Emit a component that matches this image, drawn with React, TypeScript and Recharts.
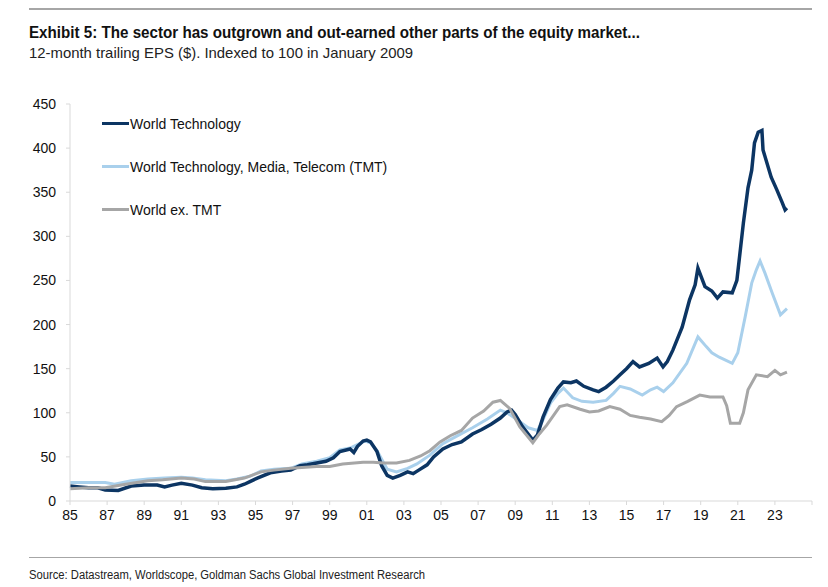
import React from "react";
import { LineChart, Line, XAxis, YAxis, Legend } from "recharts";

// [year, index value]
const WORLD_TECH: [number, number][] = [
  [1985, 17], [1985.5, 16], [1986, 15], [1986.5, 15], [1986.9, 12.5], [1987.6, 12],
  [1988.3, 17], [1989, 18], [1989.7, 18], [1990.1, 16], [1990.5, 18], [1991, 20],
  [1991.6, 18], [1992.1, 15], [1992.7, 14], [1993.4, 14.5], [1994, 16], [1994.4, 19],
  [1994.7, 22], [1995.1, 26], [1995.8, 32], [1996.4, 34], [1996.9, 35], [1997.4, 40],
  [1997.8, 41], [1998.3, 43], [1998.8, 45], [1999.2, 49], [1999.55, 56], [2000.1, 59],
  [2000.3, 55], [2000.5, 62], [2000.8, 68], [2001.0, 69], [2001.2, 67], [2001.55, 56],
  [2001.8, 40], [2002.1, 29], [2002.4, 26], [2002.8, 29], [2003.2, 33], [2003.5, 31],
  [2003.8, 35], [2004.25, 41], [2004.6, 50], [2005.1, 59], [2005.6, 64], [2006.1, 67],
  [2006.7, 76], [2007.2, 81], [2007.7, 87], [2008.2, 94], [2008.56, 101], [2008.8, 103],
  [2009.0, 98], [2009.4, 84], [2009.95, 69], [2010.2, 75], [2010.5, 95], [2010.9, 115],
  [2011.3, 128], [2011.6, 135], [2012.0, 134], [2012.3, 136], [2012.7, 130], [2013.2, 126],
  [2013.5, 124], [2013.9, 129], [2014.3, 136], [2014.65, 143], [2015.0, 150], [2015.35, 158],
  [2015.7, 152], [2016.2, 156], [2016.65, 162], [2016.97, 152], [2017.2, 158], [2017.5, 171],
  [2018.0, 197], [2018.4, 228], [2018.7, 245], [2018.85, 264], [2019.23, 243], [2019.6, 238],
  [2019.9, 230], [2020.2, 237], [2020.7, 236], [2020.95, 250], [2021.3, 315], [2021.55, 355],
  [2021.75, 375], [2021.9, 406], [2022.1, 418], [2022.3, 420], [2022.36, 398], [2022.8, 367],
  [2023.1, 353], [2023.4, 338], [2023.55, 330], [2023.65, 332],
];

const WORLD_TMT: [number, number][] = [
  [1985, 21], [1986, 21], [1986.9, 21], [1987.4, 19], [1988.3, 23], [1989.2, 25],
  [1990.1, 26], [1991, 27], [1991.6, 26], [1992.3, 24], [1993.4, 23], [1994, 25],
  [1994.7, 28], [1995.3, 34], [1996, 36], [1996.9, 37], [1997.5, 42], [1998.3, 45],
  [1999, 49], [1999.55, 58], [2000.1, 60], [2000.6, 65], [2000.9, 68], [2001.2, 66],
  [2001.55, 57], [2002.1, 36], [2002.6, 33], [2003.2, 37], [2003.7, 42], [2004.4, 52],
  [2005.1, 65], [2005.8, 73], [2006.7, 83], [2007.5, 93], [2008.2, 103], [2008.56, 100],
  [2009.25, 90], [2009.7, 83], [2010.2, 80], [2010.5, 92], [2010.9, 111], [2011.3, 122],
  [2011.6, 128], [2012.1, 117], [2012.6, 113], [2013.2, 112], [2013.9, 114], [2014.3, 122],
  [2014.65, 130], [2015.2, 127], [2015.85, 120], [2016.3, 126], [2016.65, 129], [2017.0, 124],
  [2017.5, 134], [2018.25, 156], [2018.85, 186], [2019.3, 175], [2019.6, 168], [2020.0, 163],
  [2020.7, 156], [2021.0, 168], [2021.4, 209], [2021.75, 247], [2022.0, 262], [2022.2, 272],
  [2022.47, 258], [2022.85, 236], [2023.3, 211], [2023.65, 218],
];

const WORLD_EX_TMT: [number, number][] = [
  [1985, 14], [1986, 15], [1986.9, 15], [1988, 19], [1989.2, 23], [1990, 24],
  [1991, 26], [1991.7, 25], [1992.3, 22], [1993.4, 22], [1994.4, 26], [1995.3, 33],
  [1996, 35], [1996.9, 37], [1998.3, 39], [1999.0, 39], [1999.7, 42], [2000.8, 44],
  [2001.35, 44], [2001.9, 43], [2002.6, 43], [2003.3, 46], [2003.9, 51], [2004.4, 57],
  [2004.95, 67], [2005.5, 74], [2006.1, 80], [2006.7, 94], [2007.3, 102], [2007.8, 112],
  [2008.2, 114], [2008.7, 105], [2009.25, 84], [2009.95, 66], [2010.3, 76], [2010.7, 86],
  [2011.4, 107], [2011.8, 109], [2012.5, 104], [2013.0, 101], [2013.5, 102], [2014.1, 107],
  [2014.65, 104], [2015.2, 97], [2015.7, 95], [2016.3, 93], [2016.9, 90], [2017.3, 97],
  [2017.7, 107], [2018.3, 113], [2018.95, 120], [2019.5, 118], [2020.2, 118], [2020.4, 108],
  [2020.6, 88], [2021.1, 88], [2021.3, 100], [2021.55, 126], [2022.0, 143], [2022.6, 141],
  [2023.0, 148], [2023.3, 143], [2023.65, 146],
];

const X_TICKS = [1985, 1987, 1989, 1991, 1993, 1995, 1997, 1999, 2001, 2003, 2005, 2007,
  2009, 2011, 2013, 2015, 2017, 2019, 2021, 2023, 2025];
const Y_TICKS = [0, 50, 100, 150, 200, 250, 300, 350, 400, 450];

const SERIES = [
  { name: "World Technology", color: "#0c3563" },
  { name: "World Technology, Media, Telecom (TMT)", color: "#a9d0ec" },
  { name: "World ex. TMT", color: "#a6a6a6" },
];

const TITLE = "Exhibit 5: The sector has outgrown and out-earned other parts of the equity market...";
const SUBTITLE = "12-month trailing EPS ($). Indexed to 100 in January 2009";
const SOURCE = "Source: Datastream, Worldscope, Goldman Sachs Global Investment Research";

const toPoints = (rows: [number, number][]) => rows.map(([t, v]) => ({ t, v }));

const SANS = "'Liberation Sans', Arial, sans-serif";

function LegendBox() {
  return (
    <div style={{ fontFamily: SANS, fontSize: 14, color: "#111" }}>
      {SERIES.map((s) => (
        <div key={s.name} style={{ display: "flex", alignItems: "center", height: 43 }}>
          <span style={{ display: "inline-block", width: 27, height: 3, background: s.color }} />
          <span style={{ marginLeft: 1 }}>{s.name}</span>
        </div>
      ))}
    </div>
  );
}

export default function App() {
  return (
    <div style={{ position: "absolute", left: 0, top: 0, width: 828, height: 587, background: "#fff" }}>
      {/* header and footer: condensed look via textLength */}
      <svg width={828} height={587} style={{ position: "absolute", left: 0, top: 0 }}>
        <line x1={29} x2={812} y1={9} y2={9} stroke="#a6a6a6" strokeWidth={2} />
        <text x={29} y={38} fontFamily={SANS} fontWeight={700} fontSize={17} fill="#111"
          textLength={611} lengthAdjust="spacingAndGlyphs">{TITLE}</text>
        <text x={29} y={58} fontFamily={SANS} fontSize={15} fill="#222"
          textLength={384} lengthAdjust="spacingAndGlyphs">{SUBTITLE}</text>
        <line x1={29} x2={812} y1={557.5} y2={557.5} stroke="#a6a6a6" strokeWidth={1} />
        <text x={29} y={579} fontFamily={SANS} fontSize={12.5} fill="#222"
          textLength={396} lengthAdjust="spacingAndGlyphs">{SOURCE}</text>
      </svg>

      <div style={{ position: "absolute", left: 0, top: 80 }}>
        <LineChart width={828} height={460} margin={{ top: 24, right: 16, left: 0, bottom: 9 }}>
          <XAxis
            type="number"
            dataKey="t"
            domain={[1985, 2025]}
            ticks={X_TICKS}
            tickFormatter={(v: number) => (v === 2025 ? "" : String(v % 100).padStart(2, "0"))}
            tick={{ fontSize: 14, fill: "#111", fontFamily: SANS }}
            stroke="#d9d9d9"
            tickSize={4}
            tickMargin={5}
            height={30}
            interval={0}
          />
          <YAxis
            type="number"
            domain={[0, 450]}
            ticks={Y_TICKS}
            tick={{ fontSize: 14, fill: "#111", fontFamily: SANS }}
            stroke="#d9d9d9"
            tickSize={4}
            tickMargin={10}
            width={70}
            interval={0}
          />
          <Legend
            layout="vertical"
            align="center"
            verticalAlign="middle"
            wrapperStyle={{ left: 102, top: 22, width: "auto" }}
            content={() => <LegendBox />}
          />
          <Line data={toPoints(WORLD_TMT)} dataKey="v" name={SERIES[1].name} type="linear"
            stroke={SERIES[1].color} strokeWidth={3} dot={false} isAnimationActive={false} />
          <Line data={toPoints(WORLD_TECH)} dataKey="v" name={SERIES[0].name} type="linear"
            stroke={SERIES[0].color} strokeWidth={3.5} dot={false} isAnimationActive={false} />
          <Line data={toPoints(WORLD_EX_TMT)} dataKey="v" name={SERIES[2].name} type="linear"
            stroke={SERIES[2].color} strokeWidth={3} dot={false} isAnimationActive={false} />
        </LineChart>
      </div>
    </div>
  );
}
